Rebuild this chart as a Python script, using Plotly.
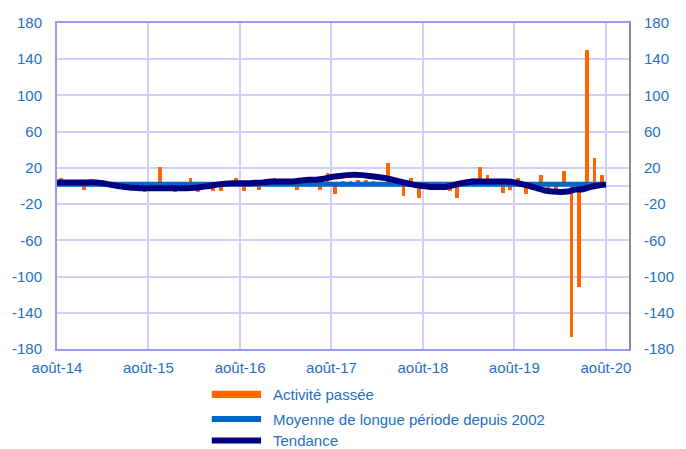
import pandas as pd
import plotly.graph_objects as go

# Monthly survey balance: past activity (bars), long-run mean and trend
start_month = "2014-08-01"

activite_passee = [
    9, 2, 1, -4, 1, 2, 1, 2, -1, 1, -2, -7,
    -3, 21, -2, -7, 3, 9, -7, 2, -5, -5, 2, 9,
    -5, 2, -4, 7, 9, 3, 4, -4, 4, 9, -4, 14,
    -9, 5, 6, 7, 7, 5, 3, 25, 4, -11, 9, -13,
    2, -2, 1, -6, -13, 3, 9, 21, 12, 3, -8, -4,
    9, -9, 2, 12, -2, -3, 17, -167, -111, 150, 31, 12,
]

tendance = [
    4, 4, 4, 4, 4, 4, 3, 1.5, 0, -1, -2, -2.5,
    -2.5, -2.5, -2.5, -2.5, -2.5, -2.5, -2, -1, 0, 1.5, 2.5, 3,
    3, 3, 3.5, 4, 5, 5, 5, 5, 6, 7, 7, 8,
    10, 11, 12, 12.5, 12, 11, 10, 9, 7, 5, 3, 1,
    0, -1, -1, -1, 1, 3, 4.5, 5, 5, 5, 5, 5,
    4, 2, 0, -2.5, -5, -6, -6.5, -6, -4, -3.5, -1, 0.5, 1.5,
]

moyenne_longue_periode = 2.0

tick_years = [2014, 2015, 2016, 2017, 2018, 2019, 2020]
tick_labels = ["août-14", "août-15", "août-16", "août-17", "août-18", "août-19", "août-20"]
y_ticks = [-180, -140, -100, -60, -20, 20, 60, 100, 140, 180]

legend_labels = ["Activité passée", "Moyenne de longue période depuis 2002", "Tendance"]

ORANGE = "#FF6600"
BLUE = "#0066CC"
NAVY = "#000080"
TEXT = "#1F6FC5"
GRID = "#CFCFFA"
AXIS = "#9999F0"

month_starts = pd.date_range(start_month, periods=len(tendance), freq="MS")
bar_x = pd.date_range(start_month, periods=len(activite_passee), freq="MS") + pd.Timedelta(days=15)
tick_vals = [pd.Timestamp(f"{y}-08-01") for y in tick_years]

fig = go.Figure()

fig.add_trace(go.Bar(
    x=bar_x, y=activite_passee, name=legend_labels[0],
    marker=dict(color=ORANGE, line=dict(width=0)),
    width=15 * 86400000, showlegend=False,
))
fig.add_trace(go.Scatter(
    x=month_starts, y=[moyenne_longue_periode] * len(month_starts),
    name=legend_labels[1], mode="lines",
    line=dict(color=BLUE, width=5), yaxis="y2", showlegend=False,
))
fig.add_trace(go.Scatter(
    x=month_starts, y=tendance, name=legend_labels[2], mode="lines",
    line=dict(color=NAVY, width=6, shape="spline", smoothing=0.8),
    yaxis="y2", showlegend=False,
))

font = dict(family="Liberation Sans, Arial, sans-serif", size=15, color=TEXT)

yaxis_common = dict(
    range=[-180, 180], tickmode="array", tickvals=y_ticks,
    ticktext=[str(v) for v in y_ticks], tickfont=font,
    ticks="", ticklabelstandoff=10, showline=True, linewidth=2,
)

fig.update_layout(
    width=686, height=449,
    margin=dict(l=52, r=39, t=23, b=100),
    paper_bgcolor="white", plot_bgcolor="white",
    font=font, bargap=0,
    xaxis=dict(
        type="date", range=[pd.Timestamp("2014-08-01"), pd.Timestamp("2020-11-01")],
        tickmode="array", tickvals=tick_vals, ticktext=tick_labels,
        tickfont=font, ticks="", ticklabelstandoff=4,
        showgrid=True, gridcolor=GRID, gridwidth=1.5,
        showline=True, linecolor=AXIS, linewidth=2, mirror=True,
    ),
    yaxis=dict(
        **yaxis_common, linecolor=AXIS,
        showgrid=True, gridcolor=GRID, gridwidth=1.5,
        zeroline=True, zerolinecolor=GRID, zerolinewidth=1.5,
    ),
    yaxis2=dict(
        **yaxis_common, linecolor="#8A8A8A", overlaying="y", side="right",
        showgrid=False, zeroline=False,
    ),
)

# Hand-drawn legend below the plot area
legend_rows = [-0.139, -0.215, -0.281]
sym_x0, sym_x1, text_x = 0.2706, 0.3568, 0.3735
fig.add_shape(type="rect", xref="paper", yref="paper",
              x0=sym_x0, x1=sym_x1, y0=legend_rows[0] - 0.011, y1=legend_rows[0] + 0.011,
              fillcolor=ORANGE, line=dict(width=0))
fig.add_shape(type="line", xref="paper", yref="paper",
              x0=sym_x0, x1=sym_x1, y0=legend_rows[1], y1=legend_rows[1],
              line=dict(color=BLUE, width=6))
fig.add_shape(type="line", xref="paper", yref="paper",
              x0=sym_x0, x1=sym_x1, y0=legend_rows[2], y1=legend_rows[2],
              line=dict(color=NAVY, width=6))
for label, ry in zip(legend_labels, legend_rows):
    fig.add_annotation(text=label, xref="paper", yref="paper", x=text_x, y=ry,
                       xanchor="left", yanchor="middle", showarrow=False, font=font)

fig.write_html("out.html")
